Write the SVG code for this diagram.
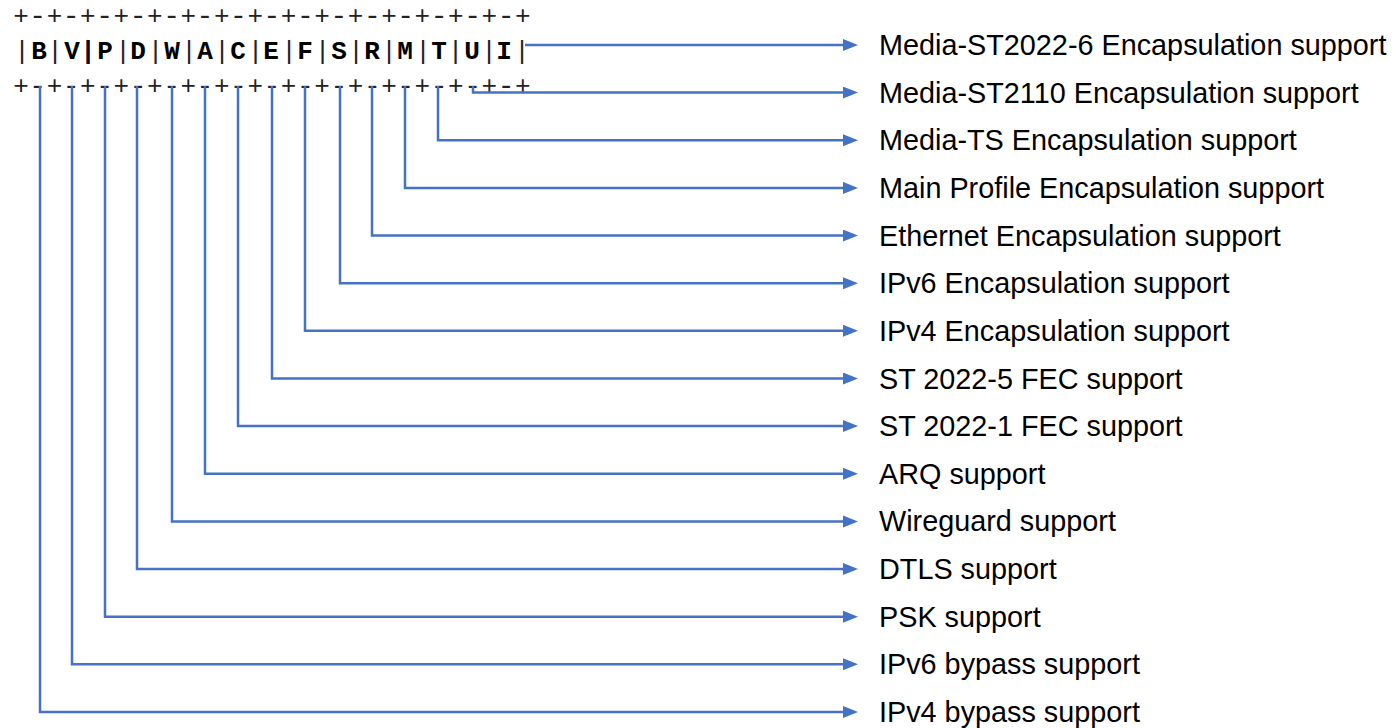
<svg xmlns="http://www.w3.org/2000/svg" width="1396" height="728" viewBox="0 0 1396 728">
<style>
.mono{font-family:"Liberation Mono","Courier New",monospace;font-size:26px;fill:#222;text-anchor:middle}
.b{font-weight:bold;fill:#000}
.h{font-size:28px}
.lbl{font-family:"Liberation Sans",Arial,sans-serif;font-size:28.8px;fill:#000}
.conn{fill:none;stroke:#4472C4;stroke-width:2.5;marker-end:url(#arr)}
</style>
<defs>
<marker id="arr" markerUnits="userSpaceOnUse" markerWidth="16" markerHeight="14" refX="9" refY="6" orient="auto">
<path d="M0,0 L15,6 L0,12 z" fill="#4472C4"/>
</marker>
</defs>
<rect width="1396" height="728" fill="#fff"/>
<g id="header">
<text class="mono"><tspan x="21" y="24">+</tspan><tspan class="h" x="37.7" y="23.5">-</tspan><tspan x="54.5" y="24">+</tspan><tspan class="h" x="71.2" y="23.5">-</tspan><tspan x="87.9" y="24">+</tspan><tspan class="h" x="104.6" y="23.5">-</tspan><tspan x="121.4" y="24">+</tspan><tspan class="h" x="138.1" y="23.5">-</tspan><tspan x="154.8" y="24">+</tspan><tspan class="h" x="171.6" y="23.5">-</tspan><tspan x="188.3" y="24">+</tspan><tspan class="h" x="205" y="23.5">-</tspan><tspan x="221.7" y="24">+</tspan><tspan class="h" x="238.5" y="23.5">-</tspan><tspan x="255.2" y="24">+</tspan><tspan class="h" x="271.9" y="23.5">-</tspan><tspan x="288.6" y="24">+</tspan><tspan class="h" x="305.4" y="23.5">-</tspan><tspan x="322.1" y="24">+</tspan><tspan class="h" x="338.8" y="23.5">-</tspan><tspan x="355.5" y="24">+</tspan><tspan class="h" x="372.3" y="23.5">-</tspan><tspan x="389" y="24">+</tspan><tspan class="h" x="405.7" y="23.5">-</tspan><tspan x="422.4" y="24">+</tspan><tspan class="h" x="439.2" y="23.5">-</tspan><tspan x="455.9" y="24">+</tspan><tspan class="h" x="472.6" y="23.5">-</tspan><tspan x="489.3" y="24">+</tspan><tspan class="h" x="506.1" y="23.5">-</tspan><tspan x="522.8" y="24">+</tspan></text>
<text class="mono" y="59"><tspan x="22">|</tspan><tspan class="b" x="39">B</tspan><tspan x="55">|</tspan><tspan class="b" x="72">V</tspan><tspan class="b" x="88">|</tspan><tspan class="b" x="105">P</tspan><tspan x="123">|</tspan><tspan class="b" x="138">D</tspan><tspan x="155.5">|</tspan><tspan class="b" x="172">W</tspan><tspan x="189">|</tspan><tspan class="b" x="205">A</tspan><tspan x="222">|</tspan><tspan class="b" x="238">C</tspan><tspan x="255.5">|</tspan><tspan class="b" x="271">E</tspan><tspan x="289">|</tspan><tspan class="b" x="305">F</tspan><tspan x="322.5">|</tspan><tspan class="b" x="339">S</tspan><tspan x="356">|</tspan><tspan class="b" x="372">R</tspan><tspan x="389">|</tspan><tspan class="b" x="405">M</tspan><tspan x="423">|</tspan><tspan class="b" x="439">T</tspan><tspan x="455.5">|</tspan><tspan class="b" x="472">U</tspan><tspan x="489">|</tspan><tspan class="b" x="504">I</tspan><tspan x="522">|</tspan></text>
<text class="mono"><tspan x="21" y="94">+</tspan><tspan class="h" x="37.7" y="93.5">-</tspan><tspan x="54.5" y="94">+</tspan><tspan class="h" x="71.2" y="93.5">-</tspan><tspan x="87.9" y="94">+</tspan><tspan class="h" x="104.6" y="93.5">-</tspan><tspan x="121.4" y="94">+</tspan><tspan class="h" x="138.1" y="93.5">-</tspan><tspan x="154.8" y="94">+</tspan><tspan class="h" x="171.6" y="93.5">-</tspan><tspan x="188.3" y="94">+</tspan><tspan class="h" x="205" y="93.5">-</tspan><tspan x="221.7" y="94">+</tspan><tspan class="h" x="238.5" y="93.5">-</tspan><tspan x="255.2" y="94">+</tspan><tspan class="h" x="271.9" y="93.5">-</tspan><tspan x="288.6" y="94">+</tspan><tspan class="h" x="305.4" y="93.5">-</tspan><tspan x="322.1" y="94">+</tspan><tspan class="h" x="338.8" y="93.5">-</tspan><tspan x="355.5" y="94">+</tspan><tspan class="h" x="372.3" y="93.5">-</tspan><tspan x="389" y="94">+</tspan><tspan class="h" x="405.7" y="93.5">-</tspan><tspan x="422.4" y="94">+</tspan><tspan class="h" x="439.2" y="93.5">-</tspan><tspan x="455.9" y="94">+</tspan><tspan class="h" x="472.6" y="93.5">-</tspan><tspan x="489.3" y="94">+</tspan><tspan class="h" x="506.1" y="93.5">-</tspan><tspan x="522.8" y="94">+</tspan></text>
</g>
<g id="connectors">
<path class="conn" d="M525,45 H852"/>
<path class="conn" d="M473,86 V92.6 H852"/>
<path class="conn" d="M438,86 V140.3 H852"/>
<path class="conn" d="M405,86 V187.9 H852"/>
<path class="conn" d="M372,86 V235.6 H852"/>
<path class="conn" d="M340,86 V283.2 H852"/>
<path class="conn" d="M305,86 V330.8 H852"/>
<path class="conn" d="M272,86 V378.5 H852"/>
<path class="conn" d="M238,86 V426.1 H852"/>
<path class="conn" d="M205,86 V473.8 H852"/>
<path class="conn" d="M172,86 V521.4 H852"/>
<path class="conn" d="M137,86 V569 H852"/>
<path class="conn" d="M105,86 V616.7 H852"/>
<path class="conn" d="M72,86 V664.3 H852"/>
<path class="conn" d="M40,86 V712 H852"/>
</g>
<g id="label-I"><text class="lbl" x="879" y="55">Media-ST2022-6 Encapsulation support</text></g>
<g id="label-U"><text class="lbl" x="879" y="102.6">Media-ST2110 Encapsulation support</text></g>
<g id="label-T"><text class="lbl" x="879" y="150.3">Media-TS Encapsulation support</text></g>
<g id="label-M"><text class="lbl" x="879" y="197.9">Main Profile Encapsulation support</text></g>
<g id="label-R"><text class="lbl" x="879" y="245.6">Ethernet Encapsulation support</text></g>
<g id="label-S"><text class="lbl" x="879" y="293.2">IPv6 Encapsulation support</text></g>
<g id="label-F"><text class="lbl" x="879" y="340.8">IPv4 Encapsulation support</text></g>
<g id="label-E"><text class="lbl" x="879" y="388.5">ST 2022-5 FEC support</text></g>
<g id="label-C"><text class="lbl" x="879" y="436.1">ST 2022-1 FEC support</text></g>
<g id="label-A"><text class="lbl" x="879" y="483.8">ARQ support</text></g>
<g id="label-W"><text class="lbl" x="879" y="531.4">Wireguard support</text></g>
<g id="label-D"><text class="lbl" x="879" y="579">DTLS support</text></g>
<g id="label-P"><text class="lbl" x="879" y="626.7">PSK support</text></g>
<g id="label-V"><text class="lbl" x="879" y="674.3">IPv6 bypass support</text></g>
<g id="label-B"><text class="lbl" x="879" y="722">IPv4 bypass support</text></g>
</svg>
